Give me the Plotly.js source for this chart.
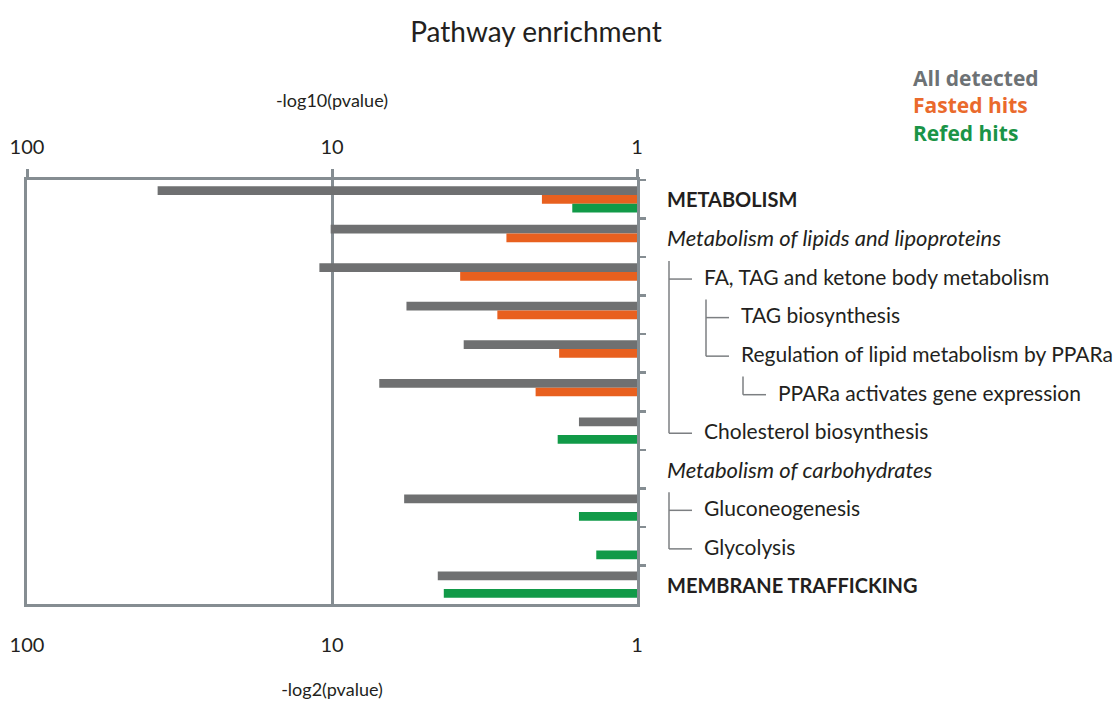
<!DOCTYPE html>
<html>
<head>
<meta charset="utf-8">
<script src="https://cdn.plot.ly/plotly-3.0.1.min.js"></script>
<style>html,body{margin:0;padding:0;background:#fff;}#chart{width:1118px;height:704px;}</style>
</head>
<body>
<div id="chart"></div>
<script>
// ---- data ----
const categories = [
  'METABOLISM',
  'Metabolism of lipids and lipoproteins',
  'FA, TAG and ketone body metabolism',
  'TAG biosynthesis',
  'Regulation of lipid metabolism by PPARa',
  'PPARa activates gene expression',
  'Cholesterol biosynthesis',
  'Metabolism of carbohydrates',
  'Gluconeogenesis',
  'Glycolysis',
  'MEMBRANE TRAFFICKING'
];
const indentLevel = [0, 0, 1, 2, 2, 3, 1, 0, 1, 1, 0];
const parentIndex = [-1, -1, 1, 2, 2, 4, 1, -1, 7, 7, -1];
const labelStyle = ['bold', 'italic', 'normal', 'normal', 'normal', 'normal', 'normal', 'italic', 'normal', 'normal', 'bold'];

const seriesNames = ['All detected', 'Fasted hits', 'Refed hits'];
const seriesColors = ['#6f7071', '#e8601f', '#119a48'];
const legendColors = ['#6d7275', '#ea6a2c', '#1a9447'];
const allDetected = [37.3, 10.1, 11.0, 5.7, 3.7, 7.0, 1.55, null, 5.8, null, 4.5];
const fastedHits  = [2.05, 2.68, 3.8, 2.87, 1.8, 2.15, null, null, null, null, null];
const refedHits   = [1.63, null, null, null, null, null, 1.82, null, 1.55, 1.36, 4.3];

const xTickVals = [100, 10, 1];
const xTickText = ['100', '10', '1'];

// ---- layout constants ----
const W = 1118, H = 704;
const M = {l: 27, r: 481, t: 180, b: 100};
const plotW = W - M.l - M.r, plotH = H - M.t - M.b;
const px2paperX = p => (p - M.l) / plotW;
const px2paperY = p => (H - M.b - p) / plotH;
const axisGray = '#858d92';
const textFont = 'Lato, "Open Sans", sans-serif';
const legendFont = '"Open Sans", Lato, sans-serif';
const textColor = '#231f20';
const labelSizes = {bold: 20, italic: 22, normal: 21};

const seriesData = [allDetected, fastedHits, refedHits];
const traces = seriesData.map((vals, k) => ({
  type: 'bar', orientation: 'h',
  name: seriesNames[k], x: vals, y: categories,
  marker: {color: seriesColors[k], line: {width: 0}},
  showlegend: false, hoverinfo: 'x+name'
}));
// invisible companion trace so the top (-log10) axis is drawn
traces.push({
  type: 'scatter', mode: 'markers', x: allDetected, y: categories,
  xaxis: 'x2', yaxis: 'y', marker: {opacity: 0}, hoverinfo: 'skip', showlegend: false
});

// labels and tree connectors
const labelX0 = 665, indentStep = 37;
const annotations = [];
const shapes = [];
categories.forEach((c, i) => {
  let txt = c;
  if (labelStyle[i] === 'bold') txt = '<b>' + c + '</b>';
  if (labelStyle[i] === 'italic') txt = '<i>' + c + '</i>';
  annotations.push({
    xref: 'paper', yref: 'y', x: px2paperX(labelX0 + indentStep * indentLevel[i]), y: i,
    text: txt, showarrow: false, xanchor: 'left', yanchor: 'middle',
    font: {family: textFont, size: labelSizes[labelStyle[i]], color: textColor}
  });
});
// connectors per parent
const parents = [...new Set(parentIndex.filter(p => p >= 0))];
parents.forEach(p => {
  const kids = parentIndex.map((q, i) => q === p ? i : -1).filter(i => i >= 0);
  const childTextX = labelX0 + indentStep * indentLevel[kids[0]];
  const vx = px2paperX(childTextX - 33);
  const hx = px2paperX(childTextX - 10);
  const lastKid = Math.max(...kids);
  const lineStyle = {color: '#7c7f82', width: 1.5};
  shapes.push({type: 'line', xref: 'paper', yref: 'y', x0: vx, x1: vx, y0: p + 0.6, y1: lastKid + 0.07, line: lineStyle});
  kids.forEach(k => {
    shapes.push({type: 'line', xref: 'paper', yref: 'y', x0: vx, x1: hx, y0: k + 0.07, y1: k + 0.07, line: lineStyle});
  });
});
// legend as coloured text (one block, one line per series)
const legendText = seriesNames.map((n, k) =>
  '<span style="color:' + legendColors[k] + '"><b>' + n + '</b></span>').join('<br>');
annotations.push({
  xref: 'paper', yref: 'paper', x: px2paperX(911), y: px2paperY(105),
  text: legendText, showarrow: false, xanchor: 'left', yanchor: 'middle', align: 'left',
  font: {family: legendFont, size: 21, color: legendColors[0]}
});

const logRange = [Math.log10(100), Math.log10(1)];
const layout = {
  width: W, height: H,
  margin: M,
  paper_bgcolor: '#fff', plot_bgcolor: '#fff',
  barmode: 'group', bargap: 0.32, bargroupgap: 0,
  title: {text: 'Pathway enrichment', x: 536 / W, xanchor: 'center', y: 1 - 32 / H, yanchor: 'middle', yref: 'container',
          font: {family: textFont, size: 28, color: textColor}},
  xaxis: {
    type: 'log', range: logRange, tickvals: xTickVals, ticktext: xTickText,
    showline: true, linecolor: axisGray, linewidth: 3,
    showgrid: true, gridcolor: axisGray, gridwidth: 3, zeroline: false,
    ticks: '', ticklabelstandoff: 21,
    tickfont: {family: textFont, size: 20, color: textColor},
    title: {text: '-log2(pvalue)', standoff: 29, font: {family: textFont, size: 18, color: textColor}}
  },
  xaxis2: {
    type: 'log', range: logRange, tickvals: xTickVals, ticktext: xTickText,
    overlaying: 'x', side: 'top', anchor: 'y',
    showline: true, linecolor: axisGray, linewidth: 3, showgrid: false, zeroline: false,
    ticks: 'outside', ticklen: 8, tickwidth: 3, tickcolor: axisGray, ticklabelstandoff: 7,
    tickfont: {family: textFont, size: 20, color: textColor},
    title: {text: '-log10(pvalue)', standoff: 22, font: {family: textFont, size: 18, color: textColor}}
  },
  yaxis: {
    type: 'category', range: [categories.length - 0.5, -0.5], side: 'right',
    showline: true, mirror: true, linecolor: axisGray, linewidth: 3,
    ticks: 'outside', tickson: 'boundaries', ticklen: 6, tickwidth: 2.5, tickcolor: axisGray,
    showticklabels: false, showgrid: false, zeroline: false
  },
  annotations: annotations,
  shapes: shapes,
  showlegend: false
};

Plotly.newPlot('chart', traces, layout, {displayModeBar: false, staticPlot: true});
</script>
</body>
</html>
